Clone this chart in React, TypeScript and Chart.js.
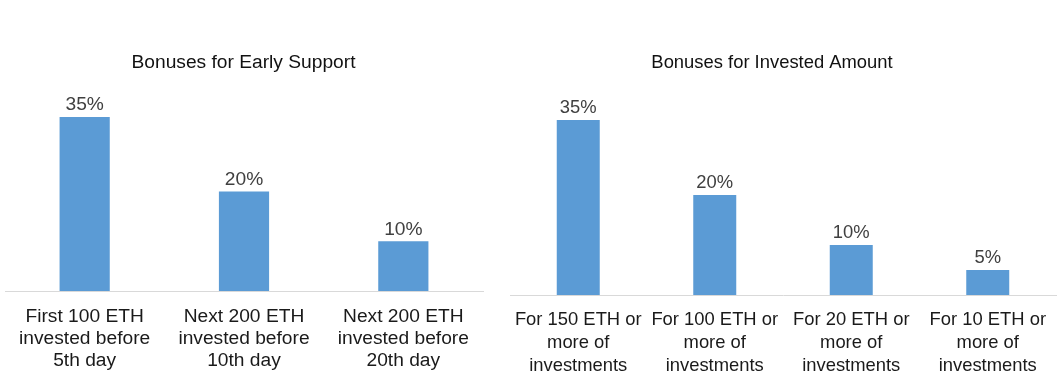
import React, { useEffect, useRef } from "react";
import { Chart, registerables } from "chart.js";

Chart.register(...registerables);

const earlyTitle = "Bonuses for Early Support";
const earlyCategories = [
  ["First 100 ETH", "invested before", "5th day"],
  ["Next 200 ETH", "invested before", "10th day"],
  ["Next 200 ETH", "invested before", "20th day"],
];
const earlyValues = [35, 20, 10];

const amountTitle = "Bonuses for Invested Amount";
const amountCategories = [
  ["For 150 ETH or", "more of", "investments"],
  ["For 100 ETH or", "more of", "investments"],
  ["For 20 ETH or", "more of", "investments"],
  ["For 10 ETH or", "more of", "investments"],
];
const amountValues = [35, 20, 10, 5];

const FONT = '"Liberation Sans", Arial, Helvetica, sans-serif';
const BAR_COLOR = "#5B9BD5";

const valueLabels = {
  id: "valueLabels",
  afterDatasetsDraw(chart: any, _args: any, opts: any) {
    const ctx = chart.ctx;
    const meta = chart.getDatasetMeta(0);
    ctx.save();
    ctx.font = `${opts.size}px ${FONT}`;
    ctx.fillStyle = opts.color;
    ctx.textAlign = "center";
    ctx.textBaseline = "middle";
    meta.data.forEach((bar: any, i: number) => {
      const v = chart.data.datasets[0].data[i];
      ctx.fillText(`${v}%`, bar.x, bar.y - opts.offset);
    });
    ctx.restore();
  },
};

const chartTitle = {
  id: "chartTitle",
  afterDraw(chart: any, _args: any, opts: any) {
    const ctx = chart.ctx;
    const { left, right } = chart.chartArea;
    ctx.save();
    ctx.font = `${opts.size}px ${FONT}`;
    ctx.fillStyle = opts.color;
    ctx.textAlign = "center";
    ctx.textBaseline = "middle";
    ctx.fillText(opts.text, (left + right) / 2 + opts.dx, opts.y);
    ctx.restore();
  },
};

type BarProps = {
  labels: string[][];
  values: number[];
  title: string;
  left: number;
  width: number;
  fontSize: number;
  padding: { left: number; right: number; top: number };
  axisHeight: number;
  tickPadding: number;
  lineHeight: number;
  titleDx: number;
  titleY: number;
  labelOffset: number;
  yMax: number;
};

function BarChart(p: BarProps) {
  const ref = useRef<HTMLCanvasElement>(null);
  useEffect(() => {
    if (!ref.current) return;
    const chart = new Chart(ref.current, {
      type: "bar",
      data: {
        labels: p.labels,
        datasets: [
          {
            data: p.values,
            backgroundColor: BAR_COLOR,
            borderWidth: 0,
            categoryPercentage: 1,
            barPercentage: 0.315,
          },
        ],
      },
      options: {
        responsive: false,
        animation: false,
        layout: { padding: { left: p.padding.left, right: p.padding.right, top: p.padding.top, bottom: 0 } },
        plugins: {
          legend: { display: false },
          title: { display: false },
          tooltip: { enabled: false },
          valueLabels: { size: p.fontSize, color: "#404040", offset: p.labelOffset },
          chartTitle: { text: p.title, size: p.fontSize, color: "#111111", dx: p.titleDx, y: p.titleY },
        } as any,
        scales: {
          x: {
            grid: { display: false, drawTicks: false, tickLength: 0 },
            border: { display: true, color: "#D9D9D9", width: 1 },
            ticks: {
              color: "#1a1a1a",
              padding: p.tickPadding,
              maxRotation: 0,
              autoSkip: false,
              font: { family: FONT, size: p.fontSize, lineHeight: p.lineHeight / p.fontSize },
            },
            afterFit: (scale: any) => {
              scale.height = p.axisHeight;
            },
          },
          y: {
            display: false,
            min: 0,
            max: p.yMax,
          },
        },
      },
      plugins: [valueLabels, chartTitle],
    } as any);
    return () => chart.destroy();
  }, []);
  return (
    <canvas
      ref={ref}
      width={p.width}
      height={388}
      style={{ position: "absolute", left: p.left, top: 0, width: p.width, height: 388 }}
    />
  );
}

export default function App() {
  return (
    <div
      style={{
        position: "fixed",
        left: 0,
        top: 0,
        width: 1063,
        height: 388,
        background: "#ffffff",
        overflow: "hidden",
      }}
    >
      <BarChart
        labels={earlyCategories}
        values={earlyValues}
        title={earlyTitle}
        left={0}
        width={495}
        fontSize={19.2}
        padding={{ left: 5, right: 12, top: 92 }}
        axisHeight={97}
        tickPadding={14.5}
        lineHeight={22}
        titleDx={-0.5}
        titleY={63}
        labelOffset={12}
        yMax={40}
      />
      <BarChart
        labels={amountCategories}
        values={amountValues}
        title={amountTitle}
        left={500}
        width={563}
        fontSize={18.4}
        padding={{ left: 10, right: 7, top: 95 }}
        axisHeight={93}
        tickPadding={13}
        lineHeight={23}
        titleDx={-11}
        titleY={63}
        labelOffset={12}
        yMax={40}
      />
    </div>
  );
}
